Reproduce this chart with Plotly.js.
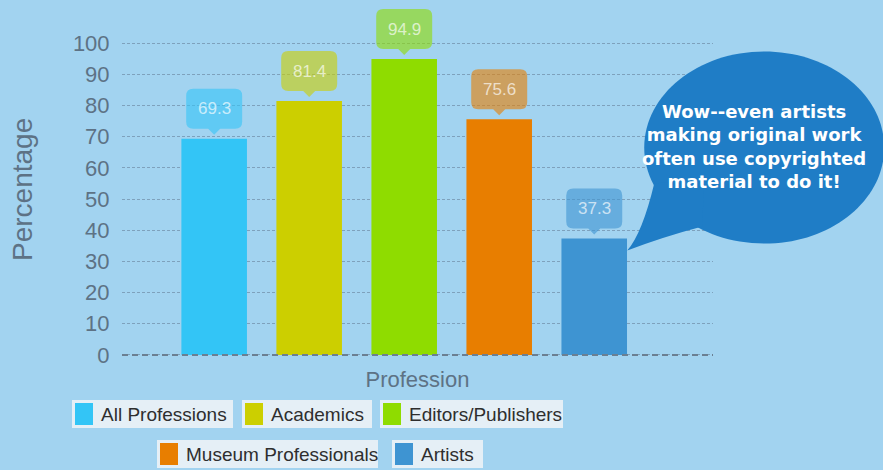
<!DOCTYPE html>
<html>
<head>
<meta charset="utf-8">
<script src="https://cdn.plot.ly/plotly-3.0.1.min.js"></script>
<style>html,body{margin:0;padding:0;background:#a2d3f0;}#chart{width:883px;height:470px;}</style>
</head>
<body>
<div id="chart"></div>
<script>
// ---- data ----
const categories = ['All Professions', 'Academics', 'Editors/Publishers', 'Museum Professionals', 'Artists'];
const percentages = [69.3, 81.4, 94.9, 75.6, 37.3];
const barColors = ['#33c5f6', '#cccf00', '#8fdc00', '#e87e00', '#3e94d2'];
const yTicks = [0, 10, 20, 30, 40, 50, 60, 70, 80, 90, 100];
const calloutLines = ['Wow--even artists', 'making original work', 'often use copyrighted', 'material to do it!'];
const calloutTarget = 'Artists';
const yTitle = 'Percentage';
const xTitle = 'Profession';

// ---- geometry ----
const W = 883, H = 470, L = 122, R = 170, T = 40, B = 112;
const PW = W - L - R, PH = H - T - B;
const xr = [-0.97, 5.25], yr = [-1, 101];
const pxX = p => (p - L) / PW;            // canvas px -> paper
const pxY = p => (H - B - p) / PH;
const dX = i => (i - xr[0]) / (xr[1] - xr[0]); // data -> paper
const dY = v => (v - yr[0]) / (yr[1] - yr[0]);

const bg = '#a2d3f0';
const axisTextColor = '#5d7285';

// bars
const traces = categories.map((c, i) => ({
  type: 'bar', x: [c], y: [percentages[i]], name: c,
  marker: {color: barColors[i], line: {width: 0}},
  width: 0.69, showlegend: false, hoverinfo: 'x+y'
}));

const shapes = [];
const annotations = [];

// value label boxes (rounded rectangle with pointer), anchored at bar top
function labelPath(w, b, t, r, tip, pw) {
  const h = w / 2;
  return `M 0,${tip} L ${pw},${b} L ${h - r},${b} Q ${h},${b} ${h},${b + r} L ${h},${t - r} Q ${h},${t} ${h - r},${t} ` +
         `L ${-h + r},${t} Q ${-h},${t} ${-h},${t - r} L ${-h},${b + r} Q ${-h},${b} ${-h + r},${b} L ${-pw},${b} Z`;
}
categories.forEach((c, i) => {
  shapes.push({
    type: 'path', xref: 'paper', yref: 'paper', xsizemode: 'pixel', ysizemode: 'pixel',
    xanchor: dX(i), yanchor: dY(percentages[i]),
    path: labelPath(56, 10, 50, 7, 4, 6),
    fillcolor: barColors[i], opacity: 0.6, line: {width: 0}, layer: 'above'
  });
  annotations.push({
    xref: 'paper', yref: 'paper', x: dX(i), y: dY(percentages[i]), yshift: 30,
    text: percentages[i].toFixed(1), showarrow: false, xanchor: 'center', yanchor: 'middle',
    font: {family: 'Liberation Sans, Arial, sans-serif', size: 17, color: 'rgba(255,255,255,0.68)'}
  });
});

// zero baseline (dashed, darker)
shapes.push({type: 'line', xref: 'paper', yref: 'y', x0: 0, x1: 1, y0: 0, y1: 0,
  line: {color: '#6b7f92', width: 2, dash: '6px,4px'}, layer: 'above'});

// speech bubble anchored to the Artists bar
const ai = categories.indexOf(calloutTarget);
const ax = dX(ai), ay = dY(percentages[ai]);
function ellipsePath(cx, cy, rx, ry) {
  const k = 0.5523;
  return `M ${cx + rx},${cy} C ${cx + rx},${cy + k * ry} ${cx + k * rx},${cy + ry} ${cx},${cy + ry} ` +
         `C ${cx - k * rx},${cy + ry} ${cx - rx},${cy + k * ry} ${cx - rx},${cy} ` +
         `C ${cx - rx},${cy - k * ry} ${cx - k * rx},${cy - ry} ${cx},${cy - ry} ` +
         `C ${cx + k * rx},${cy - ry} ${cx + rx},${cy - k * ry} ${cx + rx},${cy} Z`;
}
const bubbleColor = '#1f7dc6';
shapes.push({type: 'path', xref: 'paper', yref: 'paper', xsizemode: 'pixel', ysizemode: 'pixel',
  xanchor: ax, yanchor: ay, path: ellipsePath(170, 91, 120, 96),
  fillcolor: bubbleColor, line: {width: 0}, layer: 'above'});
shapes.push({type: 'path', xref: 'paper', yref: 'paper', xsizemode: 'pixel', ysizemode: 'pixel',
  xanchor: ax, yanchor: ay,
  path: 'M 60,55 Q 48,5 33,-12 Q 70,2 108,12 L 110,60 Z',
  fillcolor: bubbleColor, line: {width: 0}, layer: 'above'});
annotations.push({xref: 'paper', yref: 'paper', x: ax, y: ay, xshift: 160, yshift: 92,
  text: calloutLines.join('<br>'), showarrow: false, align: 'center', xanchor: 'center', yanchor: 'middle',
  font: {family: 'DejaVu Sans, Verdana, sans-serif', size: 18, color: '#ffffff', weight: 'bold'}});

// y-axis title as a rotated annotation (placed like the reference)
annotations.push({xref: 'paper', yref: 'paper', x: pxX(22), y: pxY(190), textangle: -90,
  text: yTitle, showarrow: false, xanchor: 'center', yanchor: 'middle',
  font: {family: 'Liberation Sans, Arial, sans-serif', size: 28, color: axisTextColor}});

// custom legend: per-item light boxes
const legendSlots = [
  {x0: 72, x1: 233, y0: 400}, {x0: 242, x1: 372, y0: 400}, {x0: 380, x1: 563, y0: 400},
  {x0: 157, x1: 378, y0: 440}, {x0: 392, x1: 483, y0: 440}
];
categories.forEach((c, i) => {
  const s = legendSlots[i];
  shapes.push({type: 'rect', xref: 'paper', yref: 'paper',
    x0: pxX(s.x0), x1: pxX(s.x1), y0: pxY(s.y0), y1: pxY(s.y0 + 28),
    fillcolor: 'rgba(238,242,246,0.88)', line: {width: 0}, layer: 'above'});
  shapes.push({type: 'rect', xref: 'paper', yref: 'paper',
    x0: pxX(s.x0 + 3), x1: pxX(s.x0 + 21), y0: pxY(s.y0 + 3), y1: pxY(s.y0 + 25),
    fillcolor: barColors[i], line: {width: 0}, layer: 'above'});
  annotations.push({xref: 'paper', yref: 'paper', x: pxX(s.x0 + 27), y: pxY(s.y0 + 14),
    text: c, showarrow: false, xanchor: 'left', yanchor: 'middle',
    font: {family: 'Liberation Sans, Arial, sans-serif', size: 19, color: '#2e2e2e'}});
});

const layout = {
  width: W, height: H,
  margin: {l: L, r: R, t: T, b: B, pad: 0},
  paper_bgcolor: bg, plot_bgcolor: bg,
  barmode: 'overlay', showlegend: false,
  font: {family: 'Liberation Sans, Arial, sans-serif', color: axisTextColor},
  xaxis: {
    type: 'category', categoryorder: 'array', categoryarray: categories,
    range: xr, showticklabels: false, showgrid: false, zeroline: false, showline: false,
    ticks: '', automargin: false, fixedrange: true,
    title: {text: xTitle, standoff: 13, font: {size: 22, color: axisTextColor}}
  },
  yaxis: {
    range: yr, tickvals: yTicks, ticktext: yTicks.map(String),
    tickfont: {size: 22, color: axisTextColor},
    ticks: 'outside', ticklen: 7, tickcolor: 'rgba(0,0,0,0)',
    showgrid: true, gridcolor: 'rgba(90,112,135,0.5)', gridwidth: 1, griddash: '3px,2px',
    zeroline: false, showline: false, automargin: false, fixedrange: true
  },
  shapes: shapes,
  annotations: annotations
};

Plotly.newPlot('chart', traces, layout, {displayModeBar: false, staticPlot: true});
</script>
</body>
</html>
